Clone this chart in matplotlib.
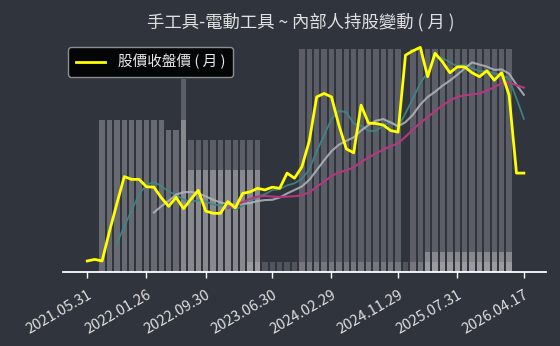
import numpy as np
import pandas as pd
import matplotlib
matplotlib.use("Agg")
import matplotlib.pyplot as plt

plt.rcParams['font.family'] = ['Noto Sans CJK TC', 'DejaVu Sans']

# monthly close price (index 0 = 2021.05 ... 59 = 2026.04)
price = [32.9, 33.3, 32.9, 40.5, 47.6, 54.5, 53.8, 53.8, 51.9, 51.8,
         49.1, 46.9, 49.2, 46.3, 48.7, 51.0, 45.7, 45.1, 45.1, 48.1,
         46.5, 50.2, 50.6, 51.5, 51.1, 51.8, 51.5, 55.4, 54.1, 57.0,
         63.6, 74.9, 75.8, 74.9, 67.7, 61.6, 60.6, 72.8, 68.2, 68.1,
         67.7, 66.3, 65.9, 85.6, 86.7, 87.6, 80.1, 86.1, 83.9, 81.1,
         82.6, 82.6, 81.1, 80.1, 81.6, 79.2, 81.1, 75.4, 55.4, 55.4]

# insider holding bars (three overlapping series)
hold_a = [0] * 13 + [82.5] + [56.5] * 10 + [0] * 5 + [95.3] * 14 + [0] + [95.3] * 14 + [0, 0]
hold_b = [0, 0] + [65.0] * 9 + [60.7] * 2 + [65.0] + [43.7] * 10 + [0] * 22 + [8.7] * 12 + [0, 0]
hold_c = [0] * 22 + [4.4] * 36 + [0, 0]

tick_idx = [0, 8, 16, 25, 33, 42, 50, 59]
tick_labels = ['2021.05.31', '2022.01.26', '2022.09.30', '2023.06.30',
               '2024.02.29', '2024.11.29', '2025.07.31', '2026.04.17']

bg = '#2f343d'
x = np.arange(len(price))
s = pd.Series(price)
ma5 = s.rolling(5).mean()
ma10 = s.rolling(10).mean()
ma20 = s.rolling(20).mean()

fig = plt.figure(figsize=(5.6, 3.46), dpi=100, facecolor=bg)
ax = fig.add_axes([62.5 / 560, 1 - 272.3 / 346, 483.2 / 560, 234.3 / 346])
ax.set_facecolor(bg)

w = 0.72
ax.bar(x, hold_a, width=w, color='white', alpha=0.21, linewidth=0)
ax.bar(x, hold_b, width=w, color='white', alpha=0.27, linewidth=0)
ax.bar(x, hold_c, width=w, color='white', alpha=0.16, linewidth=0)
ax.set_ylim(0, 100)
ax.set_xlim(-3.35, 61.95)

ax2 = ax.twinx()
ax2.plot(x, ma5, color='#3f8888', lw=1.3, alpha=0.9, zorder=2)
ax2.plot(x, ma10, color='#b4b6bc', lw=1.5, alpha=0.85, zorder=2)
ax2.plot(x, ma20, color='#b5377d', lw=1.5, zorder=2)
ax2.plot(x, price, color='#ffff00', lw=2.0, zorder=3, label='股價收盤價 ( 月 )')
ax2.set_ylim(30, 90)

for a in (ax, ax2):
    for sp in ['left', 'right', 'top']:
        a.spines[sp].set_visible(False)
    a.set_yticks([])
ax2.spines['bottom'].set_visible(False)
ax.spines['bottom'].set_color('white')
ax.spines['bottom'].set_linewidth(1.3)

ax.set_xticks(tick_idx)
ax.set_xticklabels(tick_labels, rotation=30, ha='right', rotation_mode='anchor',
                   color='#e0e0e0', fontsize=10.5)
ax.tick_params(axis='x', colors='white', length=4, width=1, pad=7, labelcolor='#e0e0e0')

leg = ax2.legend(loc='upper left', bbox_to_anchor=(0.012, 0.962), borderaxespad=0,
                 fontsize=10.5, facecolor='black', edgecolor='#9a9a9a', framealpha=0.9,
                 handlelength=2.0, handletextpad=0.9, borderpad=0.5)
for t in leg.get_texts():
    t.set_color('#e8e8e8')

fig.text(0.537, 0.935, '手工具-電動工具 ~ 內部人持股變動 ( 月 )', ha='center', va='center',
         fontsize=12.5, color='#e0e0e0')

fig.savefig('out.png', dpi=100, facecolor=bg)
